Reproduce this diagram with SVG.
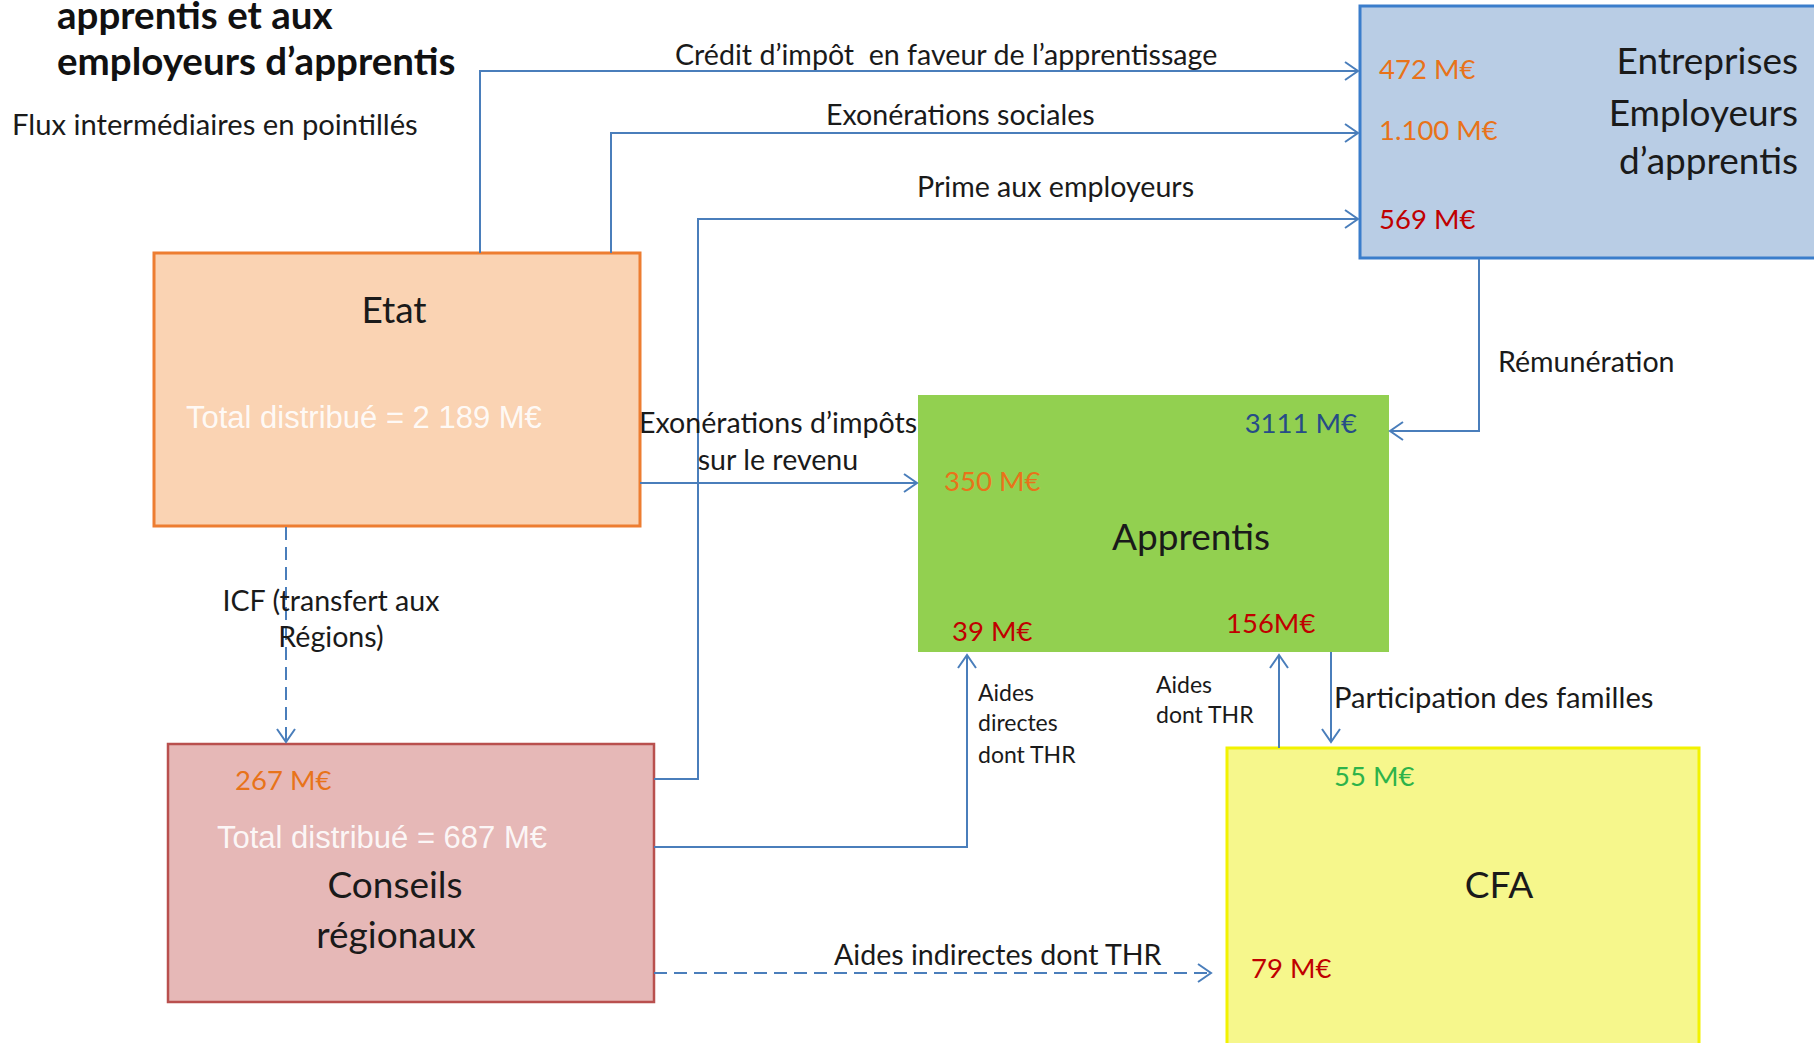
<svg xmlns="http://www.w3.org/2000/svg" width="1814" height="1043" viewBox="0 0 1814 1043">
<style>
  text { font-family: Lato, "Open Sans", "Liberation Sans", sans-serif; fill: #1a1a1a; }
  .title { font-weight: bold; font-size: 38.5px; fill: #111; }
  .lbl { font-size: 28.6px; }
  .sm { font-size: 23px; }
  .node { font-size: 37px; }
  .val { font-size: 27.5px; }
  .tot { font-family: "Liberation Sans", Arial, sans-serif; font-size: 31px; fill: #ffffff; fill-opacity: 0.9; }
  .orange { fill: #E8731A; }
  .red { fill: #C00000; }
  .navy { fill: #264C87; }
  .green { fill: #2DB34A; }
  .conn { fill: none; stroke: #4A7EBB; stroke-width: 2; }
  .dash { stroke-dasharray: 13 7; }
</style>
<defs>
  <marker id="arr" markerUnits="userSpaceOnUse" markerWidth="17" markerHeight="22" refX="14" refY="10" orient="auto">
    <path d="M1,1 L14,10 L1,19" fill="none" stroke="#4A7EBB" stroke-width="2"/>
  </marker>
</defs>
<rect x="0" y="0" width="1814" height="1043" fill="#ffffff"/>

<g id="title">
  <text class="title" x="57" y="29">apprentis et aux</text>
  <text class="title" x="57" y="75">employeurs d’apprentis</text>
  <text class="lbl" x="12" y="135" style="font-size:29.2px">Flux intermédiaires en pointillés</text>
</g>

<g id="node-etat">
  <rect x="154" y="253" width="486" height="273" fill="#FAD3B3" stroke="#ED7D31" stroke-width="3"/>
  <text class="node" x="394" y="323" text-anchor="middle">Etat</text>
  <text class="tot" x="186" y="428">Total distribué = 2 189 M€</text>
</g>

<g id="node-entreprises">
  <rect x="1360" y="6" width="470" height="252" fill="#B9CDE5" stroke="#3A7DCB" stroke-width="3"/>
  <text class="node" x="1798" y="74" text-anchor="end">Entreprises</text>
  <text class="node" x="1798" y="126" text-anchor="end">Employeurs</text>
  <text class="node" x="1798" y="174" text-anchor="end">d’apprentis</text>
  <text class="val orange" x="1379" y="79">472 M€</text>
  <text class="val orange" x="1379" y="140">1.100 M€</text>
  <text class="val red" x="1379" y="229">569 M€</text>
</g>

<g id="node-apprentis">
  <rect x="918" y="395" width="471" height="257" fill="#92D050"/>
  <text class="val navy" x="1357" y="433" text-anchor="end">3111 M€</text>
  <text class="val orange" x="944" y="491">350 M€</text>
  <text class="node" x="1191" y="550" text-anchor="middle">Apprentis</text>
  <text class="val red" x="952" y="641">39 M€</text>
  <text class="val red" x="1226" y="633">156M€</text>
</g>

<g id="node-conseils">
  <rect x="168" y="744" width="486" height="258" fill="#E6B8B7" stroke="#B9504E" stroke-width="2.5"/>
  <text class="val orange" x="235" y="790">267 M€</text>
  <text class="tot" x="217" y="848">Total distribué = 687 M€</text>
  <text class="node" x="395" y="898" text-anchor="middle">Conseils</text>
  <text class="node" x="396" y="948" text-anchor="middle">régionaux</text>
</g>

<g id="node-cfa">
  <rect x="1227" y="748" width="472" height="320" fill="#F6F78C" stroke="#F2F200" stroke-width="3"/>
  <text class="val green" x="1334" y="786">55 M€</text>
  <text class="node" x="1499" y="898" text-anchor="middle">CFA</text>
  <text class="val red" x="1251" y="978">79 M€</text>
</g>

<g id="connectors">
  <path class="conn" d="M480,253 V71 H1358" marker-end="url(#arr)"/>
  <path class="conn" d="M611,253 V133 H1358" marker-end="url(#arr)"/>
  <path class="conn" d="M654,779 H698 V219 H1358" marker-end="url(#arr)"/>
  <path class="conn" d="M640,483 H917" marker-end="url(#arr)"/>
  <path class="conn" d="M1479,259 V431 H1390" marker-end="url(#arr)"/>
  <path class="conn dash" d="M286,527 V742" marker-end="url(#arr)"/>
  <path class="conn" d="M654,847 H967 V655" marker-end="url(#arr)"/>
  <path class="conn" d="M1279,748 V655" marker-end="url(#arr)"/>
  <path class="conn" d="M1331,652 V742" marker-end="url(#arr)"/>
  <path class="conn dash" d="M654,973 H1211" marker-end="url(#arr)"/>

  <text class="lbl" x="675" y="65" xml:space="preserve">Crédit d’impôt  en faveur de l’apprentissage</text>
  <text class="lbl" x="826" y="125">Exonérations sociales</text>
  <text class="lbl" x="917" y="197">Prime  aux employeurs</text>
  <text class="lbl" x="778" y="433" text-anchor="middle">Exonérations d’impôts</text>
  <text class="lbl" x="778" y="470" text-anchor="middle">sur le revenu</text>
  <text class="lbl" x="1498" y="372">Rémunération</text>
  <text class="lbl" x="331" y="611" text-anchor="middle">ICF (transfert aux</text>
  <text class="lbl" x="331" y="647" text-anchor="middle">Régions)</text>
  <text class="sm" x="978" y="701">Aides</text>
  <text class="sm" x="978" y="731">directes</text>
  <text class="sm" x="978" y="763">dont THR</text>
  <text class="sm" x="1156" y="693">Aides</text>
  <text class="sm" x="1156" y="723">dont THR</text>
  <text class="lbl" x="1334" y="708" style="font-size:29.2px">Participation des familles</text>
  <text class="lbl" x="834" y="965">Aides indirectes dont THR</text>
</g>
</svg>
